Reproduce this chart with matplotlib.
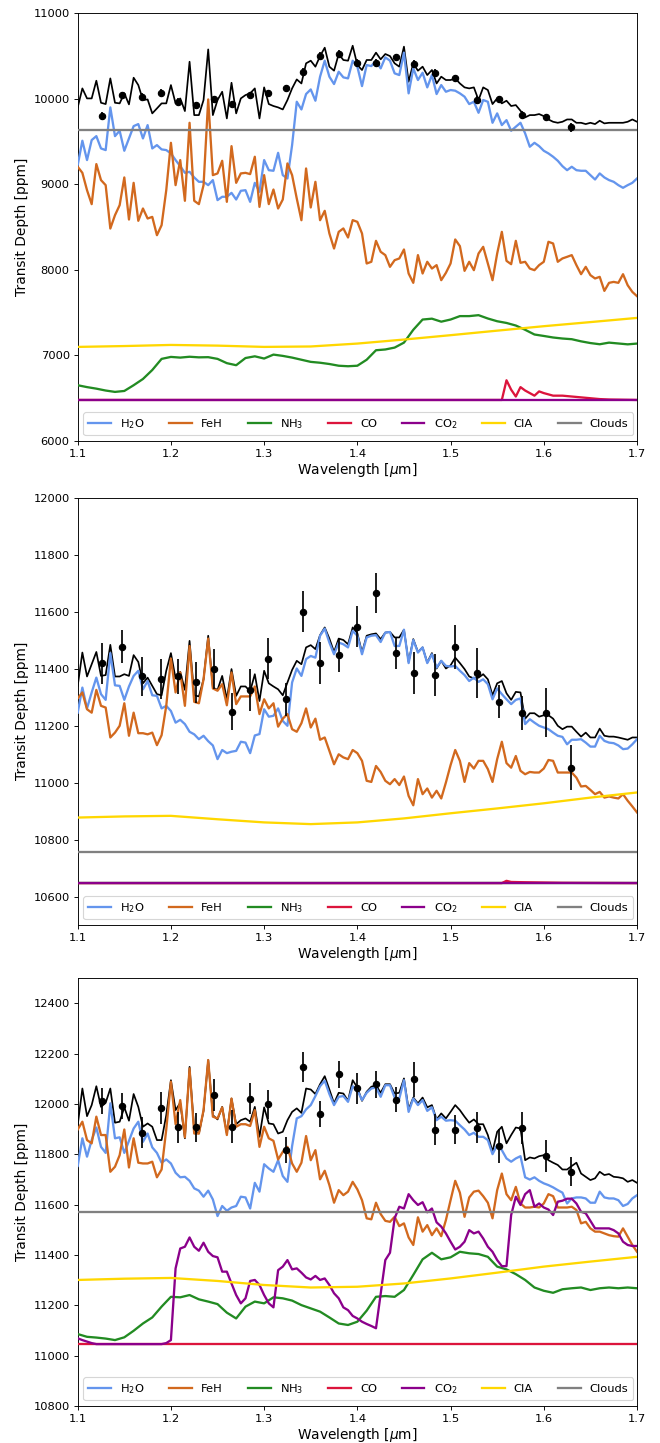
import numpy as np
import matplotlib
matplotlib.use("Agg")
import matplotlib.pyplot as plt

# ---------------- data ----------------
# common model wavelength grid (micron)
wl = np.round(1.100 + 0.005 * np.arange(121), 3)
wl_nh3 = np.round(1.10 + 0.01 * np.arange(61), 2)
wl_cia = np.round(1.10 + 0.05 * np.arange(13), 2)

# observed spectrum wavelengths (same bins in all panels)
wl_data = [1.126, 1.148, 1.169, 1.189, 1.208, 1.227, 1.246, 1.265, 1.285, 1.304,
           1.323, 1.342, 1.360, 1.380, 1.400, 1.420, 1.441, 1.461, 1.483, 1.505,
           1.528, 1.552, 1.577, 1.602, 1.629]

# ---- Panel 1 ----
model1 = [9900, 10122, 10005, 10005, 10212, 9954, 9939, 10239, 9954, 9947,
          10064, 9935, 10247, 10161, 9986, 9993, 9830, 9888, 9947, 9947,
          10161, 9947, 10005, 9857, 10434, 9810, 9810, 9986, 10578, 9810,
          9986, 10083, 9771, 10188, 9830, 10005, 10044, 10064, 10122, 9771,
          10134, 9939, 9916, 9900, 9876, 9986, 10122, 10227, 10180, 10415,
          10446, 10376, 10500, 10598, 10376, 10329, 10524, 10454, 10446, 10621,
          10395, 10337, 10454, 10454, 10540, 10462, 10524, 10500, 10415, 10376,
          10610, 10200, 10415, 10329, 10376, 10278, 10337, 10180, 10259, 10220,
          10220, 10239, 10180, 10134, 10122, 10134, 9986, 10134, 10103, 9939,
          10005, 9947, 9978, 9916, 9927, 9861, 9783, 9810, 9810, 9822,
          9798, 9759, 9732, 9720, 9732, 9759, 9759, 9720, 9720, 9705,
          9720, 9705, 9744, 9713, 9720, 9720, 9720, 9720, 9732, 9759, 9732]
h2o1 = [9225, 9510, 9284, 9518, 9564, 9420, 9401, 9900, 9564, 9627,
        9393, 9537, 9681, 9705, 9537, 9693, 9420, 9459, 9409, 9401,
        9362, 9284, 9213, 9135, 9147, 9081, 9030, 9030, 8991, 9050,
        8816, 8855, 8855, 8901, 8823, 8925, 8932, 8796, 9018, 8913,
        9284, 9166, 9159, 9369, 9108, 9069, 9459, 9966, 9876, 10056,
        10110, 9978, 10259, 10446, 10259, 10173, 10317, 10251, 10239, 10446,
        10376, 10149, 10395, 10383, 10446, 10356, 10485, 10446, 10298, 10278,
        10540, 10064, 10356, 10220, 10305, 10134, 10278, 10056, 10161, 10083,
        10103, 10095, 10064, 10025, 9939, 9966, 9837, 9986, 9966, 9720,
        9830, 9693, 9751, 9627, 9674, 9720, 9596, 9440, 9486, 9447,
        9393, 9362, 9323, 9276, 9213, 9166, 9206, 9166, 9159, 9159,
        9108, 9057, 9128, 9081, 9050, 9030, 8991, 8960, 8991, 9018, 9069]
feh1 = [9206, 9135, 8932, 8769, 9237, 9050, 8991, 8484, 8640, 8757,
        9081, 8589, 9018, 8574, 8718, 8601, 8620, 8406, 8523, 8932,
        9486, 8991, 9284, 8808, 9720, 8808, 8769, 8991, 9993, 9108,
        9128, 9276, 8796, 9447, 9018, 9128, 9135, 9120, 9323, 8737,
        9108, 8769, 8940, 8718, 8823, 9245, 9108, 8835, 8581, 9186,
        8730, 9030, 8581, 8691, 8426, 8250, 8445, 8485, 8379, 8582,
        8562, 8426, 8075, 8095, 8340, 8212, 8173, 8036, 8114, 8134,
        8239, 7958, 7849, 8173, 7958, 8095, 8016, 8056, 7880, 7966,
        8075, 8356, 8278, 7989, 8095, 7997, 8192, 8270, 8075, 7880,
        8192, 8445, 8106, 8067, 8340, 8083, 8095, 8016, 7997, 8056,
        8095, 8329, 8309, 8095, 8134, 8153, 8173, 8056, 7950, 8036,
        7939, 7900, 7919, 7755, 7849, 7860, 7849, 7950, 7821, 7743, 7693]
nh3_1 = [6652, 6630, 6612, 6590, 6574, 6585, 6652, 6725, 6830, 6960,
         6983, 6975, 6985, 6978, 6980, 6960, 6910, 6886, 6970, 6990,
         6964, 7010, 6995, 6975, 6950, 6925, 6915, 6900, 6880, 6874,
         6880, 6950, 7061, 7070, 7092, 7150, 7300, 7420, 7430, 7395,
         7420, 7460, 7460, 7471, 7432, 7400, 7380, 7350, 7300, 7245,
         7228, 7210, 7198, 7190, 7165, 7145, 7131, 7150, 7140, 7130, 7139]
wl_co1 = [1.10, 1.555, 1.56, 1.565, 1.57, 1.575, 1.58, 1.585, 1.59, 1.595,
          1.60, 1.61, 1.62, 1.63, 1.64, 1.65, 1.66, 1.67, 1.70]
co1 = [6480, 6480, 6710, 6600, 6520, 6630, 6590, 6560, 6530, 6580,
       6560, 6530, 6530, 6520, 6510, 6500, 6490, 6485, 6480]
co2_1 = [6480, 6480]
cia1 = [7100, 7110, 7123, 7115, 7100, 7105, 7139, 7186, 7237, 7290, 7342, 7390, 7439]
clouds1 = 9640
depth1 = [9798, 10044, 10025, 10071, 9966, 9927, 9993, 9939, 10044, 10064,
          10122, 10317, 10500, 10524, 10415, 10415, 10485, 10407, 10305, 10239,
          9986, 9993, 9810, 9783, 9666]
err1 = [45, 40, 40, 40, 40, 40, 40, 40, 40, 40,
        40, 45, 45, 45, 45, 45, 45, 45, 45, 45,
        45, 45, 45, 45, 50]

# ---- Panel 2 ----
model2 = [11339, 11456, 11372, 11415, 11458, 11374, 11377, 11483, 11372, 11372,
          11380, 11374, 11447, 11423, 11348, 11368, 11339, 11310, 11306, 11392,
          11454, 11365, 11388, 11325, 11497, 11306, 11302, 11362, 11515, 11333,
          11325, 11374, 11292, 11398, 11304, 11337, 11337, 11320, 11380, 11286,
          11392, 11348, 11337, 11327, 11306, 11351, 11395, 11427, 11415, 11474,
          11482, 11468, 11517, 11544, 11505, 11458, 11505, 11500, 11485, 11544,
          11524, 11456, 11515, 11520, 11523, 11503, 11526, 11528, 11509, 11509,
          11536, 11423, 11503, 11458, 11474, 11421, 11454, 11400, 11427, 11400,
          11411, 11438, 11419, 11398, 11372, 11365, 11368, 11380, 11362, 11306,
          11348, 11356, 11313, 11290, 11318, 11316, 11224, 11243, 11243, 11231,
          11236, 11236, 11224, 11199, 11187, 11196, 11196, 11178, 11161, 11175,
          11158, 11158, 11189, 11164, 11161, 11161, 11158, 11154, 11150, 11158, 11158]
h2o2 = [11245, 11333, 11260, 11316, 11368, 11310, 11290, 11454, 11341, 11339,
        11290, 11337, 11374, 11392, 11327, 11356, 11306, 11304, 11260, 11269,
        11251, 11210, 11220, 11205, 11178, 11169, 11152, 11164, 11145, 11130,
        11082, 11114, 11103, 11108, 11111, 11143, 11140, 11103, 11165, 11170,
        11257, 11231, 11234, 11260, 11216, 11199, 11351, 11400, 11374, 11433,
        11444, 11438, 11515, 11540, 11491, 11450, 11491, 11485, 11474, 11532,
        11515, 11450, 11509, 11515, 11517, 11493, 11526, 11528, 11479, 11479,
        11536, 11419, 11500, 11456, 11474, 11419, 11450, 11403, 11427, 11409,
        11407, 11409, 11392, 11377, 11356, 11368, 11353, 11362, 11345, 11292,
        11330, 11310, 11292, 11275, 11290, 11295, 11205, 11222, 11210, 11199,
        11193, 11187, 11175, 11164, 11160, 11134, 11150, 11150, 11152, 11140,
        11126, 11126, 11164, 11146, 11140, 11138, 11130, 11117, 11119, 11134, 11152]
feh2 = [11295, 11316, 11257, 11245, 11325, 11269, 11263, 11158, 11175, 11199,
        11278, 11164, 11245, 11173, 11173, 11169, 11175, 11131, 11166, 11269,
        11435, 11316, 11386, 11269, 11479, 11283, 11278, 11362, 11505, 11330,
        11322, 11345, 11271, 11386, 11275, 11302, 11302, 11302, 11337, 11240,
        11292, 11260, 11278, 11196, 11224, 11240, 11187, 11178, 11208, 11260,
        11193, 11224, 11150, 11158, 11111, 11064, 11099, 11088, 11082, 11114,
        11103, 11076, 11006, 11002, 11058, 11037, 11006, 10994, 11012, 10991,
        11021, 10953, 10920, 11012, 10959, 10979, 10947, 10971, 10944, 11000,
        11061, 11114, 11076, 11002, 11068, 11049, 11076, 11076, 11047, 11002,
        11082, 11143, 11068, 11052, 11093, 11041, 11029, 11037, 11035, 11035,
        11049, 11079, 11076, 11035, 11035, 11035, 11035, 11017, 10986, 10988,
        10974, 10959, 10967, 10947, 10951, 10947, 10944, 10959, 10936, 10916, 10895]
nh3_2 = [10647, 10647]
wl_co2p = [1.10, 1.555, 1.56, 1.565, 1.58, 1.60, 1.62, 1.70]
co_2 = [10647, 10647, 10655, 10651, 10650, 10649, 10648, 10647]
co2_2 = [10647, 10647]
cia2 = [10877, 10881, 10883, 10871, 10860, 10854, 10860, 10874, 10892, 10909, 10927, 10947, 10965]
clouds2 = 10757
depth2 = [11419, 11477, 11372, 11362, 11372, 11351, 11398, 11249, 11325, 11435,
          11292, 11600, 11419, 11448, 11547, 11665, 11456, 11384, 11376, 11476,
          11384, 11283, 11245, 11245, 11052]
err2 = [72, 57, 70, 70, 60, 71, 71, 64, 75, 72,
        57, 72, 74, 60, 71, 71, 56, 73, 74, 77,
        89, 58, 60, 87, 80]

# ---- Panel 3 ----
model3 = [11916, 12062, 11952, 11996, 12071, 11989, 12005, 12062, 11926, 11930,
          11987, 11934, 12040, 11989, 11910, 11923, 11910, 11857, 11857, 11956,
          12095, 11976, 12005, 11864, 12148, 11897, 11883, 11973, 12175, 11956,
          11939, 11989, 11883, 12022, 11920, 11936, 11943, 11930, 11989, 11870,
          11987, 11923, 11920, 11883, 11890, 11936, 11969, 11983, 11965, 12062,
          12058, 12040, 12079, 12111, 12058, 12003, 12045, 12042, 12013, 12095,
          12066, 12013, 12049, 12069, 12075, 12045, 12079, 12079, 12042, 12045,
          12102, 11979, 12026, 12003, 12026, 11987, 11996, 11939, 11963, 11943,
          11969, 11996, 11976, 11950, 11926, 11939, 11920, 11920, 11877, 11811,
          11890, 11910, 11844, 11877, 11907, 11903, 11777, 11788, 11784, 11793,
          11797, 11777, 11767, 11758, 11740, 11740, 11754, 11767, 11724, 11711,
          11698, 11705, 11731, 11718, 11722, 11711, 11709, 11705, 11691, 11698, 11687]
h2o3 = [11754, 11864, 11791, 11857, 11907, 11830, 11806, 12003, 11864, 11868,
        11806, 11854, 11903, 11930, 11850, 11883, 11828, 11806, 11767, 11780,
        11764, 11727, 11709, 11711, 11695, 11665, 11656, 11632, 11656, 11621,
        11555, 11595, 11576, 11589, 11595, 11632, 11629, 11585, 11687, 11652,
        11761, 11744, 11731, 11777, 11714, 11691, 11833, 11943, 11952, 11979,
        11996, 12032, 12071, 12093, 12040, 11996, 12029, 12032, 12009, 12071,
        12055, 12016, 12045, 12062, 12066, 12029, 12075, 12075, 12026, 12022,
        12095, 11969, 12022, 11996, 12016, 11973, 11987, 11936, 11950, 11934,
        11936, 11934, 11916, 11899, 11877, 11886, 11870, 11870, 11857, 11801,
        11837, 11817, 11784, 11771, 11784, 11793, 11709, 11700, 11709, 11695,
        11685, 11678, 11669, 11658, 11648, 11605, 11625, 11629, 11629, 11625,
        11608, 11608, 11652, 11629, 11625, 11625, 11618, 11595, 11603, 11625, 11638]
feh3 = [11899, 11930, 11857, 11844, 11950, 11877, 11877, 11731, 11751, 11797,
        11899, 11748, 11864, 11767, 11764, 11764, 11771, 11709, 11740, 11899,
        12089, 11920, 12016, 11868, 12142, 11883, 11883, 11976, 12175, 11950,
        11943, 11987, 11877, 12022, 11910, 11920, 11920, 11913, 11976, 11830,
        11910, 11864, 11854, 11780, 11810, 11830, 11764, 11731, 11767, 11873,
        11777, 11817, 11701, 11735, 11678, 11608, 11658, 11638, 11652, 11691,
        11661, 11618, 11546, 11542, 11608, 11563, 11536, 11532, 11552, 11515,
        11526, 11470, 11440, 11550, 11493, 11519, 11479, 11506, 11475, 11539,
        11618, 11695, 11648, 11552, 11629, 11652, 11656, 11634, 11608, 11546,
        11658, 11724, 11642, 11618, 11671, 11605, 11589, 11589, 11592, 11589,
        11605, 11642, 11634, 11589, 11589, 11589, 11592, 11579, 11526, 11532,
        11506, 11493, 11493, 11486, 11479, 11475, 11473, 11506, 11473, 11440, 11413]
nh3_3 = [11086, 11075, 11072, 11068, 11062, 11073, 11099, 11128, 11152, 11195,
         11234, 11232, 11241, 11224, 11215, 11205, 11171, 11148, 11195, 11215,
         11208, 11232, 11228, 11219, 11201, 11188, 11175, 11152, 11128, 11122,
         11135, 11179, 11234, 11237, 11234, 11261, 11321, 11383, 11409, 11383,
         11391, 11413, 11407, 11404, 11393, 11354, 11343, 11324, 11301, 11271,
         11258, 11250, 11264, 11268, 11271, 11261, 11268, 11271, 11268, 11271, 11268]
co_3 = [11046, 11046]
co2_3 = [11069, 11062, 11056, 11050, 11046, 11046, 11046, 11046, 11046, 11046,
         11046, 11046, 11046, 11046, 11046, 11046, 11046, 11046, 11046, 11050,
         11062, 11347, 11426, 11433, 11470, 11433, 11417, 11449, 11413, 11396,
         11391, 11334, 11334, 11287, 11241, 11208, 11228, 11297, 11301, 11281,
         11241, 11208, 11192, 11340, 11354, 11380, 11343, 11347, 11330, 11311,
         11303, 11317, 11301, 11307, 11281, 11248, 11228, 11192, 11181, 11158,
         11148, 11135, 11126, 11118, 11109, 11245, 11380, 11409, 11546, 11592,
         11585, 11642, 11618, 11599, 11610, 11570, 11585, 11530, 11513, 11486,
         11453, 11422, 11433, 11453, 11499, 11486, 11493, 11466, 11433, 11413,
         11380, 11356, 11356, 11559, 11632, 11599, 11642, 11658, 11592, 11605,
         11589, 11581, 11559, 11612, 11616, 11624, 11624, 11605, 11572, 11566,
         11536, 11506, 11506, 11506, 11506, 11499, 11486, 11453, 11440, 11436, 11436]
cia3 = [11301, 11306, 11309, 11297, 11281, 11271, 11274, 11287, 11307, 11330, 11354, 11374, 11393]
clouds3 = 11572
depth3 = [12012, 11992, 11887, 11983, 11907, 11907, 12036, 11910, 12022, 11999,
          11817, 12148, 11960, 12118, 12062, 12079, 12018, 12098, 11899, 11899,
          11906, 11834, 11906, 11795, 11731]
err3 = [52, 52, 60, 64, 62, 56, 62, 65, 62, 57,
        52, 61, 53, 55, 61, 53, 50, 71, 62, 58,
        61, 68, 63, 63, 58]

ylims = [(6000, 11000), (10500, 12000), (10800, 12500)]
yticks = [np.arange(6000, 11001, 1000), np.arange(10600, 12001, 200), np.arange(10800, 12401, 200)]

# ---------------- styling ----------------
C_H2O = "#6495ED"
C_FEH = "#D2691E"
C_NH3 = "#228B22"
C_CO = "#DC143C"
C_CO2 = "#8B008B"
C_CIA = "#FFD700"
C_CLD = "#808080"

DPI = 82.5
fig = plt.figure(figsize=(660 / DPI, 1443 / DPI), dpi=DPI)

ax_rects = [
    [77.7 / 660, 1 - 441.0 / 1443, (637 - 77.7) / 660, (441.0 - 13.3) / 1443],
    [77.7 / 660, 1 - 925.0 / 1443, (637 - 77.7) / 660, (925.0 - 497.5) / 1443],
    [77.7 / 660, 1 - 1406.0 / 1443, (637 - 77.7) / 660, (1406.0 - 978.3) / 1443],
]

panels = [
    dict(model=model1, h2o=h2o1, feh=feh1, nh3=(wl_nh3, nh3_1), co=(wl_co1, co1),
         co2=([1.1, 1.7], co2_1), cia=cia1, clouds=clouds1, depth=depth1, err=err1),
    dict(model=model2, h2o=h2o2, feh=feh2, nh3=([1.1, 1.7], nh3_2), co=(wl_co2p, co_2),
         co2=([1.1, 1.7], co2_2), cia=cia2, clouds=clouds2, depth=depth2, err=err2),
    dict(model=model3, h2o=h2o3, feh=feh3, nh3=(wl_nh3, nh3_3), co=([1.1, 1.7], co_3),
         co2=(wl, co2_3), cia=cia3, clouds=clouds3, depth=depth3, err=err3),
]

for k, p in enumerate(panels):
    ax = fig.add_axes(ax_rects[k])
    ax.plot(wl, p["model"], color="black", lw=1.5, zorder=2)
    ax.plot(wl, p["h2o"], color=C_H2O, lw=2, label="H$_2$O", zorder=3)
    ax.plot(wl, p["feh"], color=C_FEH, lw=2, label="FeH", zorder=3)
    ax.plot(p["nh3"][0], p["nh3"][1], color=C_NH3, lw=2, label="NH$_3$", zorder=3)
    ax.plot(p["co"][0], p["co"][1], color=C_CO, lw=2, label="CO", zorder=3)
    ax.plot(p["co2"][0], p["co2"][1], color=C_CO2, lw=2, label="CO$_2$", zorder=3)
    ax.plot(wl_cia, p["cia"], color=C_CIA, lw=2, label="CIA", zorder=3)
    ax.axhline(p["clouds"], color=C_CLD, lw=2, label="Clouds", zorder=3)
    ax.errorbar(wl_data, p["depth"], yerr=p["err"], fmt="o", color="black",
                ms=5.5, elinewidth=1.5, capsize=0, zorder=5)
    ax.set_xlim(1.1, 1.7)
    ax.set_ylim(*ylims[k])
    ax.set_yticks(yticks[k])
    ax.set_xticks([1.1, 1.2, 1.3, 1.4, 1.5, 1.6, 1.7])
    ax.set_xlabel("Wavelength [$\\mu$m]", fontsize=12, labelpad=1.5)
    ax.set_ylabel("Transit Depth [ppm]", fontsize=12)
    ax.legend(loc="lower left", ncol=7, fontsize=10, columnspacing=2.15)

fig.savefig("out.png", dpi=DPI)
